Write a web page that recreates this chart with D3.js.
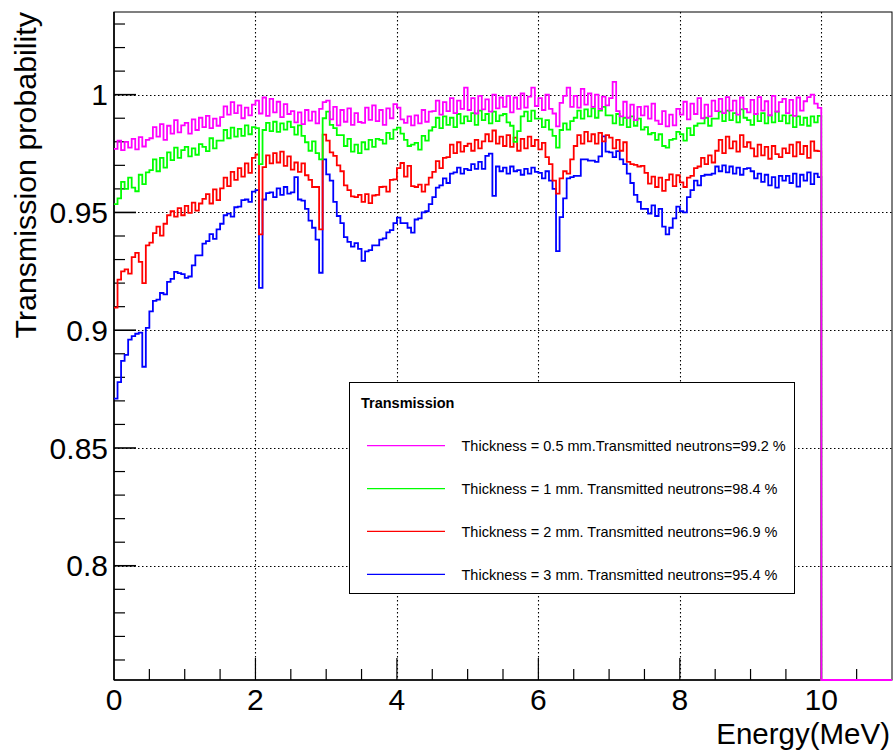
<!DOCTYPE html>
<html>
<head>
<meta charset="utf-8">
<script src="https://cdn.jsdelivr.net/npm/d3@7"></script>
<style>
  html, body { margin: 0; padding: 0; background: #fff; }
  svg { display: block; font-family: "Liberation Sans", Arial, Helvetica, sans-serif; }
</style>
</head>
<body>
<svg id="chart" width="893" height="756"></svg>
<script>
// Neutron transmission vs energy, 0.05 MeV bins from 0 to 10 MeV (empty above 10 MeV)
const binWidth = 0.05;
const xRange = [0, 11];
const yRange = [0.7515, 1.0351];

const thick05 = [
  0.9770, 0.9805, 0.9765, 0.9800, 0.9775, 0.9812, 0.9768, 0.9820, 0.9780, 0.9808,
  0.9815, 0.9862, 0.9822, 0.9875, 0.9808, 0.9868, 0.9835, 0.9892, 0.9840, 0.9870,
  0.9880, 0.9835, 0.9895, 0.9850, 0.9902, 0.9862, 0.9910, 0.9858, 0.9898, 0.9868,
  0.9905, 0.9950, 0.9915, 0.9968, 0.9922, 0.9955, 0.9900, 0.9945, 0.9912, 0.9958,
  0.9975, 0.9920, 0.9988, 0.9910, 0.9982, 0.9925, 0.9970, 0.9905, 0.9960, 0.9918,
  0.9930, 0.9882, 0.9925, 0.9875, 0.9935, 0.9890, 0.9928, 0.9878, 0.9940, 0.9968,
  0.9975, 0.9895, 0.9948, 0.9870, 0.9935, 0.9885, 0.9942, 0.9872, 0.9922, 0.9884,
  0.9880, 0.9945, 0.9893, 0.9955, 0.9888, 0.9935, 0.9872, 0.9942, 0.9900, 0.9960,
  0.9945, 0.9895, 0.9880, 0.9908, 0.9870, 0.9912, 0.9878, 0.9935, 0.9885, 0.9928,
  0.9930, 0.9975, 0.9915, 0.9968, 0.9930, 0.9985, 0.9922, 0.9975, 0.9940, 1.0030,
  0.9935, 0.9985, 0.9920, 0.9995, 0.9938, 0.9980, 0.9928, 1.0000, 0.9942, 0.9988,
  0.9948, 0.9995, 0.9925, 0.9988, 0.9940, 1.0005, 0.9945, 0.9992, 1.0030, 0.9952,
  0.9985, 0.9935, 1.0000, 0.9940, 0.9920, 0.9865, 0.9965, 0.9995, 1.0030, 0.9948,
  0.9995, 0.9945, 1.0025, 0.9958, 1.0005, 0.9948, 1.0000, 0.9940, 0.9992, 0.9955,
  0.9985, 1.0054, 0.9930, 0.9908, 0.9970, 0.9902, 0.9958, 0.9892, 0.9948, 0.9912,
  0.9950, 0.9898, 0.9962, 0.9890, 0.9875, 0.9930, 0.9865, 0.9915, 0.9870, 0.9940,
  0.9915, 0.9970, 0.9895, 0.9962, 0.9918, 0.9985, 0.9900, 0.9958, 0.9908, 0.9975,
  0.9930, 0.9982, 0.9922, 0.9990, 0.9932, 0.9975, 0.9915, 0.9988, 0.9940, 0.9925,
  0.9978, 0.9918, 0.9990, 0.9932, 0.9972, 0.9912, 0.9995, 0.9928, 0.9968, 0.9982,
  0.9922, 0.9978, 0.9910, 0.9988, 0.9932, 0.9972, 0.9990, 1.0000, 0.9962, 0.9944
];

const thick1 = [
  0.9535, 0.9560, 0.9630, 0.9600, 0.9648, 0.9605, 0.9590, 0.9660, 0.9620, 0.9670,
  0.9680, 0.9725, 0.9675, 0.9732, 0.9690, 0.9755, 0.9722, 0.9775, 0.9732, 0.9765,
  0.9778, 0.9738, 0.9772, 0.9745, 0.9790, 0.9778, 0.9760, 0.9815, 0.9772, 0.9805,
  0.9805, 0.9850, 0.9815, 0.9860, 0.9822, 0.9855, 0.9825, 0.9870, 0.9832, 0.9862,
  0.9858, 0.9705, 0.9850, 0.9880, 0.9845, 0.9885, 0.9842, 0.9878, 0.9852, 0.9886,
  0.9862, 0.9830, 0.9870, 0.9825, 0.9798, 0.9762, 0.9802, 0.9752, 0.9725, 0.9900,
  0.9928, 0.9872, 0.9858, 0.9828, 0.9828, 0.9782, 0.9812, 0.9758, 0.9788, 0.9752,
  0.9798, 0.9768, 0.9808, 0.9778, 0.9812, 0.9808, 0.9792, 0.9838, 0.9812, 0.9852,
  0.9860, 0.9835, 0.9808, 0.9782, 0.9788, 0.9795, 0.9767, 0.9825, 0.9805, 0.9848,
  0.9862, 0.9902, 0.9858, 0.9908, 0.9872, 0.9902, 0.9862, 0.9918, 0.9878, 0.9908,
  0.9888, 0.9922, 0.9872, 0.9932, 0.9892, 0.9918, 0.9878, 0.9928, 0.9888, 0.9912,
  0.9918, 0.9882, 0.9868, 0.9800, 0.9845, 0.9908, 0.9928, 0.9888, 0.9932, 0.9898,
  0.9898, 0.9862, 0.9892, 0.9852, 0.9825, 0.9775, 0.9850, 0.9878, 0.9852, 0.9888,
  0.9902, 0.9932, 0.9898, 0.9938, 0.9908, 0.9942, 0.9902, 0.9932, 0.9948, 0.9912,
  0.9912, 0.9878, 0.9918, 0.9872, 0.9902, 0.9862, 0.9908, 0.9868, 0.9898, 0.9852,
  0.9862, 0.9832, 0.9838, 0.9808, 0.9832, 0.9782, 0.9775, 0.9808, 0.9812, 0.9842,
  0.9832, 0.9805, 0.9858, 0.9828, 0.9868, 0.9878, 0.9878, 0.9902, 0.9868, 0.9898,
  0.9898, 0.9928, 0.9888, 0.9932, 0.9892, 0.9922, 0.9882, 0.9938, 0.9902, 0.9892,
  0.9872, 0.9918, 0.9888, 0.9922, 0.9878, 0.9912, 0.9882, 0.9928, 0.9888, 0.9912,
  0.9878, 0.9912, 0.9862, 0.9908, 0.9872, 0.9902, 0.9868, 0.9908, 0.9882, 0.9910
];

const thick2 = [
  0.9096, 0.9215, 0.9250, 0.9258, 0.9240, 0.9310, 0.9328, 0.9290, 0.9200, 0.9360,
  0.9372, 0.9412, 0.9440, 0.9402, 0.9452, 0.9488, 0.9505, 0.9482, 0.9518, 0.9488,
  0.9528, 0.9498, 0.9542, 0.9508, 0.9538, 0.9558, 0.9578, 0.9538, 0.9598, 0.9552,
  0.9602, 0.9648, 0.9612, 0.9672, 0.9638, 0.9688, 0.9652, 0.9708, 0.9668, 0.9732,
  0.9746, 0.9407, 0.9692, 0.9742, 0.9708, 0.9752, 0.9712, 0.9758, 0.9698, 0.9738,
  0.9682, 0.9712, 0.9672, 0.9708, 0.9658, 0.9638, 0.9608, 0.9608, 0.9428, 0.9830,
  0.9805, 0.9755, 0.9740, 0.9700, 0.9675, 0.9615, 0.9595, 0.9568, 0.9565, 0.9575,
  0.9545, 0.9578, 0.9540, 0.9572, 0.9575, 0.9608, 0.9610, 0.9588, 0.9638, 0.9640,
  0.9688, 0.9710, 0.9652, 0.9698, 0.9612, 0.9608, 0.9618, 0.9588, 0.9618, 0.9648,
  0.9672, 0.9718, 0.9688, 0.9732, 0.9735, 0.9788, 0.9752, 0.9798, 0.9758, 0.9782,
  0.9792, 0.9762, 0.9808, 0.9772, 0.9802, 0.9832, 0.9802, 0.9848, 0.9792, 0.9822,
  0.9782, 0.9828, 0.9778, 0.9818, 0.9762, 0.9812, 0.9772, 0.9822, 0.9782, 0.9808,
  0.9768, 0.9795, 0.9735, 0.9705, 0.9635, 0.9580, 0.9645, 0.9675, 0.9665, 0.9725,
  0.9782, 0.9828, 0.9792, 0.9842, 0.9802, 0.9832, 0.9792, 0.9838, 0.9802, 0.9828,
  0.9818, 0.9772, 0.9808, 0.9762, 0.9798, 0.9715, 0.9705, 0.9702, 0.9695, 0.9698,
  0.9668, 0.9622, 0.9652, 0.9608, 0.9648, 0.9592, 0.9638, 0.9662, 0.9612, 0.9658,
  0.9628, 0.9608, 0.9648, 0.9655, 0.9688, 0.9695, 0.9732, 0.9705, 0.9742, 0.9712,
  0.9762, 0.9808, 0.9752, 0.9822, 0.9772, 0.9802, 0.9758, 0.9828, 0.9778, 0.9798,
  0.9772, 0.9738, 0.9788, 0.9742, 0.9778, 0.9728, 0.9782, 0.9748, 0.9735, 0.9772,
  0.9752, 0.9788, 0.9738, 0.9798, 0.9748, 0.9782, 0.9732, 0.9802, 0.9762, 0.9760
];

const thick3 = [
  0.8710, 0.8780, 0.8870, 0.8895, 0.8960, 0.8975, 0.8985, 0.8990, 0.8845, 0.9010,
  0.9080, 0.9125, 0.9130, 0.9158, 0.9152, 0.9205, 0.9218, 0.9248, 0.9242, 0.9238,
  0.9222, 0.9228, 0.9275, 0.9318, 0.9318, 0.9368, 0.9378, 0.9408, 0.9388, 0.9428,
  0.9452, 0.9488, 0.9495, 0.9482, 0.9522, 0.9525, 0.9552, 0.9555, 0.9545, 0.9588,
  0.9595, 0.9180, 0.9555, 0.9582, 0.9585, 0.9565, 0.9602, 0.9575, 0.9608, 0.9580,
  0.9585, 0.9650, 0.9555, 0.9550, 0.9515, 0.9465, 0.9435, 0.9385, 0.9244, 0.9725,
  0.9662, 0.9635, 0.9545, 0.9485, 0.9455, 0.9395, 0.9375, 0.9355, 0.9370, 0.9345,
  0.9294, 0.9335, 0.9340, 0.9360, 0.9360, 0.9385, 0.9390, 0.9415, 0.9425, 0.9455,
  0.9478, 0.9455, 0.9455, 0.9435, 0.9414, 0.9470, 0.9475, 0.9500, 0.9505, 0.9535,
  0.9565, 0.9605, 0.9615, 0.9645, 0.9625, 0.9665, 0.9670, 0.9690, 0.9665, 0.9685,
  0.9680, 0.9705, 0.9685, 0.9715, 0.9685, 0.9740, 0.9750, 0.9570, 0.9695, 0.9675,
  0.9690, 0.9665, 0.9695, 0.9675, 0.9680, 0.9660, 0.9685, 0.9665, 0.9690, 0.9672,
  0.9668, 0.9645, 0.9675, 0.9635, 0.9600, 0.9336, 0.9480, 0.9560, 0.9645, 0.9650,
  0.9655, 0.9655, 0.9725, 0.9725, 0.9720, 0.9720, 0.9715, 0.9738, 0.9823, 0.9758,
  0.9755, 0.9735, 0.9760, 0.9725, 0.9705, 0.9665, 0.9625, 0.9575, 0.9545, 0.9515,
  0.9515, 0.9495, 0.9530, 0.9485, 0.9515, 0.9440, 0.9407, 0.9435, 0.9475, 0.9525,
  0.9505, 0.9500, 0.9565, 0.9595, 0.9635, 0.9615, 0.9655, 0.9660, 0.9660, 0.9665,
  0.9695, 0.9675, 0.9700, 0.9670, 0.9695, 0.9665, 0.9690, 0.9660, 0.9685, 0.9688,
  0.9675, 0.9645, 0.9665, 0.9630, 0.9660, 0.9615, 0.9650, 0.9605, 0.9655, 0.9635,
  0.9655, 0.9625, 0.9665, 0.9610, 0.9660, 0.9635, 0.9670, 0.9620, 0.9665, 0.9650
];

// bins between 10 and 11 MeV are empty
const emptyBinsAbove10 = 20;

const legendTitle = "Transmission";
const legendLabels = [
  "Thickness = 0.5 mm.Transmitted neutrons=99.2 %",
  "Thickness = 1 mm. Transmitted neutrons=98.4 %",
  "Thickness = 2 mm. Transmitted neutrons=96.9 %",
  "Thickness = 3 mm. Transmitted neutrons=95.4 %"
];
const seriesColors = ["#ff00ff", "#00ff00", "#ff0000", "#0000ff"];

const xMajorTicks = [0, 2, 4, 6, 8, 10];
const xTickLabels = ["0", "2", "4", "6", "8", "10"];
const xMinorStep = 0.5;
const yMajorTicks = [0.8, 0.85, 0.9, 0.95, 1];
const yTickLabels = ["0.8", "0.85", "0.9", "0.95", "1"];
const yMinorStep = 0.01;

const xTitle = "Energy(MeV)";
const yTitle = "Transmission probability";

// ---- layout ----
const frame = { left: 114, right: 892, top: 12, bottom: 680 };
const svg = d3.select("#chart");

const x = d3.scaleLinear().domain(xRange).range([frame.left, frame.right]);
const y = d3.scaleLinear().domain(yRange).range([frame.bottom, frame.top]).clamp(true);

// grid
const grid = svg.append("g").attr("stroke", "#000").attr("stroke-width", 1.1)
  .attr("stroke-dasharray", "1.5,2.5").attr("fill", "none");
xMajorTicks.filter(d => d > xRange[0]).forEach(d => {
  grid.append("line").attr("x1", Math.round(x(d)) + 0.5).attr("x2", Math.round(x(d)) + 0.5)
    .attr("y1", frame.top).attr("y2", frame.bottom);
});
yMajorTicks.forEach(d => {
  grid.append("line").attr("y1", Math.round(y(d)) + 0.5).attr("y2", Math.round(y(d)) + 0.5)
    .attr("x1", frame.left).attr("x2", frame.right);
});

// frame
svg.append("rect")
  .attr("x", frame.left).attr("y", frame.top)
  .attr("width", frame.right - frame.left).attr("height", frame.bottom - frame.top)
  .attr("fill", "none").attr("stroke", "#000").attr("stroke-width", 1);

// axes lines
const axes = svg.append("g").attr("stroke", "#000").attr("fill", "none");
axes.append("line").attr("x1", frame.left).attr("x2", frame.left)
  .attr("y1", frame.top).attr("y2", frame.bottom).attr("stroke-width", 1.6);
axes.append("line").attr("x1", frame.left).attr("x2", frame.right)
  .attr("y1", frame.bottom).attr("y2", frame.bottom).attr("stroke-width", 1.6);

// y ticks (inward)
const yMinor = d3.range(0.76, yRange[1], yMinorStep).map(v => +v.toFixed(2));
yMinor.forEach(v => {
  const major = yMajorTicks.some(m => Math.abs(m - v) < 1e-6);
  axes.append("line").attr("x1", frame.left).attr("x2", frame.left + (major ? 22 : 11))
    .attr("y1", y(v)).attr("y2", y(v)).attr("stroke-width", major ? 1.6 : 1.2);
});
// x ticks (inward)
const xMinor = d3.range(xRange[0] + xMinorStep, xRange[1], xMinorStep);
xMinor.forEach(v => {
  const major = xMajorTicks.includes(v);
  axes.append("line").attr("x1", x(v)).attr("x2", x(v))
    .attr("y1", frame.bottom).attr("y2", frame.bottom - (major ? 22 : 11)).attr("stroke-width", 1.2);
});

// histograms (values below the axis range sit on the frame bottom)
const allSeries = [thick05, thick1, thick2, thick3];
function histPoints(vals) {
  const full = vals.concat(new Array(emptyBinsAbove10).fill(0));
  const pts = full.map((v, i) => [i * binWidth, v]);
  pts.push([full.length * binWidth, full[full.length - 1]]);
  return pts;
}
const stepLine = d3.line().x(d => x(d[0])).y(d => y(d[1])).curve(d3.curveStepAfter);
const histG = svg.append("g");
[3, 2, 1, 0].forEach(k => {
  histG.append("path")
    .attr("d", stepLine(histPoints(allSeries[k])))
    .attr("fill", "none")
    .attr("stroke", seriesColors[k])
    .attr("stroke-width", 1.8)
    .attr("stroke-linejoin", "miter");
});

// tick labels
const labels = svg.append("g").attr("fill", "#000").style("font-size", "30px");
yMajorTicks.forEach((v, i) => {
  labels.append("text").attr("x", 108).attr("y", y(v)).attr("dy", "0.355em")
    .attr("text-anchor", "end").text(yTickLabels[i]);
});
xMajorTicks.forEach((v, i) => {
  labels.append("text").attr("x", x(v)).attr("y", 710)
    .attr("text-anchor", "middle").text(xTickLabels[i]);
});

// axis titles
svg.append("text").attr("x", 890).attr("y", 744).attr("text-anchor", "end")
  .style("font-size", "29.5px").text(xTitle);
svg.append("text").attr("transform", "translate(36,12) rotate(-90)")
  .attr("text-anchor", "end").style("font-size", "30.4px").text(yTitle);

// legend
const lg = { x: 349.5, y: 382.5, w: 445, h: 211 };
const legend = svg.append("g");
legend.append("rect").attr("x", lg.x).attr("y", lg.y).attr("width", lg.w).attr("height", lg.h)
  .attr("fill", "#fff").attr("stroke", "#000").attr("stroke-width", 1);
legend.append("text").attr("x", 361).attr("y", 408)
  .style("font-size", "14.5px").style("font-weight", "bold").text(legendTitle);
const rowY = [445.7, 488.7, 531.3, 574.3];
legendLabels.forEach((lab, i) => {
  legend.append("line").attr("x1", 367).attr("x2", 445)
    .attr("y1", rowY[i]).attr("y2", rowY[i])
    .attr("stroke", seriesColors[i]).attr("stroke-width", 1.3);
  legend.append("text").attr("x", 461.5).attr("y", rowY[i] + 5.3)
    .style("font-size", "14.5px").text(lab);
});
</script>
</body>
</html>
